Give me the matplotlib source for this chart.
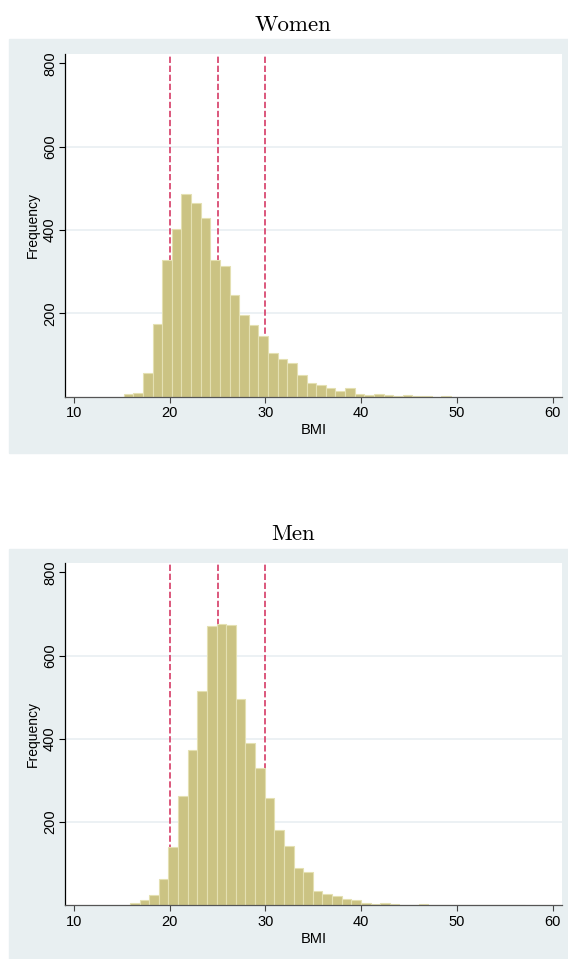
import numpy as np
import matplotlib
matplotlib.use("Agg")
import matplotlib.pyplot as plt
from matplotlib.patches import Rectangle

# BMI histograms, counts per bin (bin width about 1 BMI unit)
women_start = 15.2
men_start = 15.85
bin_width = 1.005
women_counts = [6, 8, 57, 175, 327, 403, 487, 465, 428, 327, 314, 244, 195, 171,
                145, 105, 90, 82, 52, 34, 27, 21, 14, 20, 6, 5, 7, 3, 2, 3, 2, 1, 0, 2]
men_counts = [5, 13, 25, 63, 139, 262, 373, 514, 671, 677, 673, 496, 389, 329,
              258, 181, 142, 90, 79, 35, 27, 23, 15, 13, 6, 3, 5, 2, 1, 1, 2, 1,
              0, 1, 0, 1, 0, 0, 0, 1, 1]
cutoffs = [20, 25, 30]
xticks = [10, 20, 30, 40, 50, 60]
yticks = [200, 400, 600, 800]

W, H = 568, 959
bg = "#e8eff1"
bar_col = "#cbc383"
bar_edge = "#e4e0b2"
line_col = "#d94a72"
sans = "Liberation Sans"

fig = plt.figure(figsize=(W / 100, H / 100), dpi=100)

# gray graph regions
fig.patches.append(Rectangle((9 / W, 1 - 452.7 / H), 559 / W, 413.4 / H,
                             transform=fig.transFigure, color=bg, zorder=-10))
fig.patches.append(Rectangle((9 / W, 0), 559 / W, 1 - 549 / H,
                             transform=fig.transFigure, color=bg, zorder=-10))


def panel(top_px, bottom_px, start, counts, title, title_y):
    ax = fig.add_axes([65.3 / W, 1 - bottom_px / H, 497 / W, (bottom_px - top_px) / H])
    ax.set_facecolor("white")
    edges = start + bin_width * np.arange(len(counts))
    for g in [200, 400, 600]:
        ax.axhline(g, color="#e9eff2", lw=1.2, zorder=0)
    for c in cutoffs:
        ax.axvline(c, color=line_col, lw=1.3, dashes=(3.5, 1.5), zorder=1)
    ax.bar(edges, counts, width=bin_width, align="edge", color=bar_col,
           edgecolor=bar_edge, linewidth=0.8, zorder=2)
    ax.set_xlim(9.1, 61.0)
    ax.set_ylim(0, 822)
    ax.set_xticks(xticks)
    ax.set_yticks(yticks)
    ax.set_xticklabels([str(t) for t in xticks], fontfamily=sans, fontsize=10.5)
    ax.set_yticklabels([str(t) for t in yticks], fontfamily=sans, fontsize=10.5,
                       rotation=90, va="center")
    ax.tick_params(axis="x", length=4, width=0.8, pad=3, color="#444444")
    ax.tick_params(axis="y", length=4, width=0.8, pad=2)
    for s in ["top", "right"]:
        ax.spines[s].set_visible(False)
    ax.spines["left"].set_linewidth(0.9)
    ax.spines["bottom"].set_linewidth(0.9)
    ax.spines["bottom"].set_color("#555555")
    ax.set_xlabel("BMI", fontfamily=sans, fontsize=10.5, labelpad=2)
    ax.set_ylabel("Frequency", fontfamily=sans, fontsize=10, labelpad=2)
    fig.text(293 / W, 1 - title_y / H, title, fontfamily="cmr10", fontsize=16.5,
             ha="center", va="center")
    return ax


panel(54.3, 396.7, women_start, women_counts, "Women", 25)
panel(563.3, 905.3, men_start, men_counts, "Men", 534)

fig.savefig("out.png", dpi=100, facecolor="white")
